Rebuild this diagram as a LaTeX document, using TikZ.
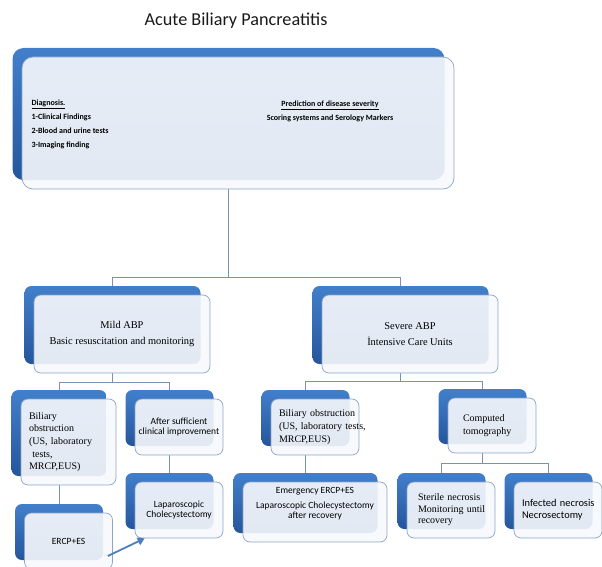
\documentclass[tikz,border=0pt]{standalone}
\usepackage{fontspec}
\setmainfont{Liberation Serif}
\setsansfont{Carlito}
\usepackage{tikz}
\usepackage{xcolor}
\usetikzlibrary{shadows,backgrounds,arrows.meta}

\definecolor{boxblue}{HTML}{427FCB}
\definecolor{boxdark}{HTML}{25569C}
\definecolor{boxedge}{HTML}{8DA5C5}
\definecolor{boxfill}{HTML}{F6F8FC}
\definecolor{linkgray}{HTML}{7A92B2}
\definecolor{arrowblue}{HTML}{4A7EC0}

\tikzset{
    card/.style={draw=boxedge, line width=0.7pt, fill=boxfill, fill opacity=0.91, text opacity=1,
        rounded corners=7pt, inner sep=0pt,
        general shadow={shadow xshift=-9.5pt, shadow yshift=9pt, draw=none, fill opacity=1,
            top color=boxblue, bottom color=boxdark}},
    serifbox/.style={font=\fontsize{10}{12.6}\selectfont, align=left},
    sansbox/.style={font=\sffamily\fontsize{9.5}{10.5}\selectfont, align=center},
    link/.style={draw=linkgray, line width=0.8pt},
    flow/.style={draw=arrowblue, line width=1.8pt, -{Triangle[length=7pt,width=8pt]}}
}

\begin{document}
\begin{tikzpicture}[x=1pt, y=-1pt]
    \clip (0,0) rectangle (602,567);
    \node[font=\sffamily\fontsize{18.2}{20}\selectfont, text=black!90] (title) at (236,21) {Acute Biliary Pancreatitis};
    \node[card, rounded corners=11pt, minimum width=432pt, minimum height=132pt] (top) at (238,123) {};
    \node[font=\sffamily\bfseries\fontsize{8}{14}\selectfont, align=left, anchor=west] (diag) at (28,124.5)
        {\underline{Diagnosis.}\\1-Clinical Findings\\2-Blood and urine tests\\3-Imaging finding};
    \node[font=\sffamily\bfseries\fontsize{8}{14}\selectfont, align=center] (pred) at (330,111)
        {\underline{Prediction of disease severity}\\Scoring systems and Serology Markers};
    \node[card, minimum width=176pt, minimum height=78pt, font=\fontsize{10.4}{16}\selectfont, align=center] (mild) at (122,334)
        {Mild ABP\\Basic resuscitation and monitoring};
    \node[card, minimum width=176pt, minimum height=78pt, font=\fontsize{10.4}{16}\selectfont, align=center] (severe) at (410,334)
        {Severe ABP\\İntensive Care Units};
    \node[card, serifbox, minimum width=95pt, minimum height=86pt, text width=79pt] (lbil) at (68.5,442)
        {Biliary\\obstruction\\\mbox{(US, laboratory}\\\ tests,\\MRCP,EUS)};
    \node[card, sansbox, minimum width=88pt, minimum height=56pt] (after) at (179,427)
        {After sufficient\\clinical improvement};
    \node[card, sansbox, minimum width=88pt, minimum height=56pt] (ercp) at (68.5,541) {ERCP+ES};
    \node[card, sansbox, minimum width=88pt, minimum height=56pt] (lap) at (179,510)
        {Laparoscopic\\Cholecystectomy};
    \node[card, serifbox, minimum width=88pt, minimum height=56pt, text width=72pt] (rbil) at (315,427)
        {\mbox{Biliary obstruction}\\\mbox{(US, laboratory tests,}\\MRCP,EUS)};
    \node[card, serifbox, minimum width=88pt, minimum height=55pt, text width=58pt] (ct) at (492,425.5)
        {Computed\\tomography};
    \node[card, sansbox, minimum width=144pt, minimum height=60pt] (emerg) at (315,512)
        {Emergency ERCP+ES\\[4pt]Laparoscopic Cholecystectomy\\after recovery\\[7pt]\mbox{}};
    \node[card, serifbox, font=\fontsize{10}{11.5}\selectfont, minimum width=88pt, minimum height=56pt, text width=66pt] (sterile) at (451,510)
        {\mbox{Sterile necrosis}\\\mbox{Monitoring until}\\recovery};
    \node[card, sansbox, font=\sffamily\fontsize{10.4}{12}\selectfont, align=left, minimum width=88pt, minimum height=56pt, text width=72pt] (infected) at (558,510)
        {\mbox{Infected necrosis}\\Necrosectomy};
    \begin{scope}[on background layer]
        \draw[link] ([xshift=-9.5pt]top.south) -- ++(0,88) -| ([xshift=-9.5pt]mild.north);
        \draw[link] ([xshift=-9.5pt]top.south) ++(0,88) -| ([xshift=-9.5pt]severe.north);
        \draw[link] ([xshift=-9.5pt]mild.south) -- ++(0,9) -| ([xshift=-9.5pt]lbil.north);
        \draw[link] ([xshift=-9.5pt]mild.south) ++(0,9) -| ([xshift=-9.5pt]after.north);
        \draw[link] ([xshift=-9.5pt]lbil.south) -- ([xshift=-9.5pt]ercp.north);
        \draw[link] ([xshift=-9.5pt]after.south) -- ([xshift=-9.5pt]lap.north);
        \draw[link] ([xshift=-9.5pt]severe.south) -- ++(0,8) -| ([xshift=-9.5pt]rbil.north);
        \draw[link] ([xshift=-9.5pt]severe.south) ++(0,8) -| ([xshift=-9.5pt]ct.north);
        \draw[link] ([xshift=-9.5pt]rbil.south) -- ([xshift=-9.5pt]emerg.north);
        \draw[link] ([xshift=-9.5pt]ct.south) -- ++(0,10) -| ([xshift=-9.5pt]sterile.north);
        \draw[link] ([xshift=-9.5pt]ct.south) ++(0,10) -| ([xshift=-9.5pt]infected.north);
    \end{scope}
    \draw[flow] ([shift={(-5pt,-15pt)}]ercp.east) -- ([xshift=10pt]lap.south west);
\end{tikzpicture}
\end{document}
